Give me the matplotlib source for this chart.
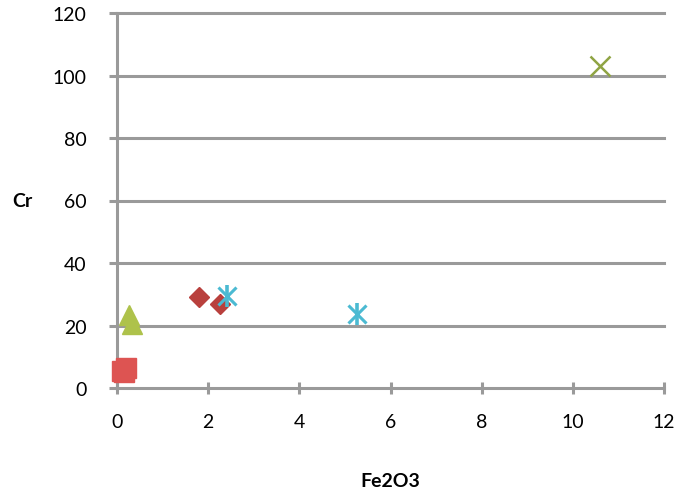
import matplotlib
matplotlib.use("Agg")
import matplotlib.pyplot as plt

plt.rcParams['font.family'] = ['Lato', 'DejaVu Sans']

# Data series (Fe2O3, Cr)
diamond_x = [1.8, 2.25]
diamond_y = [29, 27]
square_x = [0.12, 0.2, 0.16]
square_y = [5.5, 6.5, 5.0]
triangle_x = [0.26, 0.34]
triangle_y = [23.5, 20.5]
cross_x = [10.6]
cross_y = [103]
star_x = [2.42, 5.27]
star_y = [29.4, 23.7]

xticks = [0, 2, 4, 6, 8, 10, 12]
yticks = [0, 20, 40, 60, 80, 100, 120]

fig = plt.figure(figsize=(6.93, 5.02), dpi=100)
ax = fig.add_axes([117/693, 113/502, 547/693, 375/502])

grid_c = '#9a9a9a'
for yv in yticks[1:]:
    ax.axhline(yv, color=grid_c, lw=2.2, zorder=1, clip_on=False)

ax.plot(square_x, square_y, ls='none', marker='s', ms=14, color='#DD5452', mec='#DD5452', zorder=3, clip_on=False)
ax.plot(triangle_x, triangle_y, ls='none', marker='^', ms=15, color='#AEC24B', mec='#AEC24B', zorder=3, clip_on=False)
ax.plot(diamond_x, diamond_y, ls='none', marker='D', ms=10.5, color='#B9403D', mec='#B9403D', zorder=3)
ax.plot(cross_x, cross_y, ls='none', marker='x', ms=15, mew=1.8, color='#8FA443', zorder=3)
ax.plot(star_x, star_y, ls='none', marker='x', ms=12.5, mew=2.2, color='#4BBAD2', zorder=3)
ax.plot(star_x, star_y, ls='none', marker='|', ms=16, mew=2.6, color='#4BBAD2', zorder=3)

ax.set_xlim(0, 12)
ax.set_ylim(0, 120)
ax.set_xticks(xticks)
ax.set_yticks(yticks)

for s in ['top', 'right']:
    ax.spines[s].set_visible(False)
ax.spines['left'].set_color(grid_c)
ax.spines['left'].set_linewidth(2.2)
ax.spines['bottom'].set_color(grid_c)
ax.spines['bottom'].set_linewidth(2.2)

ax.tick_params(axis='y', direction='out', length=6, width=2.2, color=grid_c, labelsize=14, pad=16)
ax.tick_params(axis='x', direction='inout', length=8, width=2.2, color=grid_c, labelsize=14, pad=14)

ax.set_xlabel('Fe2O3', fontsize=14, fontweight='bold', labelpad=30)
ax.set_ylabel('Cr', fontsize=14, fontweight='bold', rotation=0, labelpad=22, va='center')

fig.savefig('out.png', dpi=100)
